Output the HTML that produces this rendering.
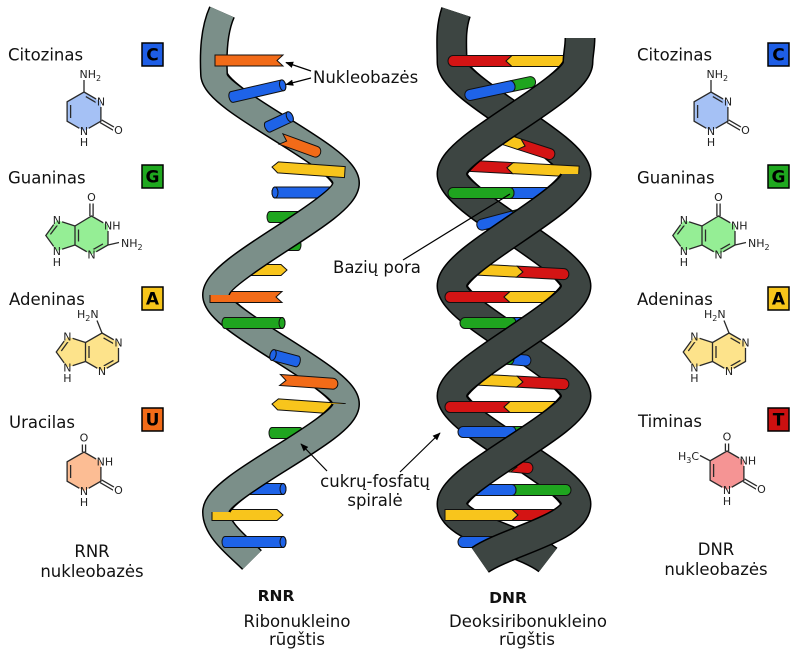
<!DOCTYPE html>
<html><head><meta charset="utf-8">
<style>
html,body{margin:0;padding:0;background:#fff;}
svg{display:block;}
.t{font-family:"DejaVu Sans","Liberation Sans",sans-serif;font-size:16.5px;fill:#111;}
.m{font-family:"DejaVu Sans","Liberation Sans",sans-serif;font-size:11px;fill:#222;}
.c{text-anchor:middle;}
.bd{stroke:#2a2a2a;stroke-width:1.3;fill:none;}
.bx{stroke:#000;stroke-width:1.5;}
.bl{font-family:"DejaVu Sans","Liberation Sans",sans-serif;font-size:17px;font-weight:bold;fill:#000;text-anchor:middle;}
.b{stroke:#111;stroke-width:1;}
</style></head>
<body>
<svg width="800" height="667" viewBox="0 0 800 667" xmlns="http://www.w3.org/2000/svg">
<defs>
<mask id="mk" maskUnits="userSpaceOnUse" x="-200" y="-200" width="1400" height="1100" maskContentUnits="userSpaceOnUse">
<rect x="-200" y="-200" width="1400" height="1100" fill="#fff"/>
<g fill="#000">
<circle cx="101" cy="101.5" r="5.5"/><circle cx="84" cy="131" r="5.5"/><circle cx="118.5" cy="130" r="5.5"/>
<circle cx="108" cy="225.5" r="5.5"/><circle cx="91.5" cy="254.5" r="5.5"/><circle cx="56.9" cy="220.1" r="5.5"/><circle cx="56.9" cy="250.9" r="5.5"/>
<circle cx="118.5" cy="342.5" r="5.5"/><circle cx="102" cy="371" r="5.5"/><circle cx="67.4" cy="336.6" r="5.5"/><circle cx="67.4" cy="367.4" r="5.5"/>
</g>
</mask>
<marker id="ah" viewBox="0 0 10 10" refX="9" refY="5" markerWidth="8" markerHeight="8" orient="auto" markerUnits="userSpaceOnUse">
<path d="M0,1 L10,5 L0,9 z" fill="#000"/>
</marker>

<g id="cyt">
<polygon points="84,92 100.9,101.75 100.9,121.25 84,131 67.1,121.25 67.1,101.75" fill="#a5c1f5"/>
<g mask="url(#mk)" class="bd">
<polygon points="84,92 100.9,101.75 100.9,121.25 84,131 67.1,121.25 67.1,101.75"/>
<line x1="85.8" y1="96.6" x2="96.5" y2="102.8"/>
<line x1="70.6" y1="105" x2="70.6" y2="118"/>
<line x1="84" y1="92" x2="84" y2="80"/>
<path d="M100.1,122.6 L118,133 M101.7,119.9 L119.6,130.3"/>
</g>
<text class="m" x="79.5" y="78">NH<tspan font-size="8" dy="3">2</tspan></text>
<text class="m c" x="101" y="105.5">N</text>
<text class="m c" x="84" y="135">N</text>
<text class="m c" x="84" y="146">H</text>
<text class="m c" x="118.5" y="134">O</text>
</g>

<g id="gua">
<polygon points="91.5,216 108,225.5 108,245 91.5,254.5 75,245 75,226" fill="#95ee95"/>
<polygon points="75,226 56.9,220.1 45.8,235.5 56.9,250.9 75,245" fill="#95ee95"/>
<g mask="url(#mk)" class="bd">
<polygon points="91.5,216 108,225.5 108,245 91.5,254.5 75,245 75,226"/>
<polyline points="75,226 56.9,220.1 45.8,235.5 56.9,250.9 75,245"/>
<path d="M89.9,216 V203.5 M93.1,216 V203.5"/>
<line x1="102.95" y1="243.9" x2="93.05" y2="249.6"/>
<line x1="78.5" y1="229.5" x2="78.5" y2="241.5"/>
<line x1="57.4" y1="225.2" x2="50.4" y2="234.4"/>
<line x1="108" y1="245" x2="119" y2="242.5"/>
</g>
<text class="m c" x="91.5" y="201">O</text>
<text class="m" x="104" y="229.5">NH</text>
<text class="m" x="121" y="247">NH<tspan font-size="8" dy="3">2</tspan></text>
<text class="m c" x="91.5" y="258.5">N</text>
<text class="m c" x="56.9" y="224">N</text>
<text class="m c" x="56.9" y="255">N</text>
<text class="m c" x="56.9" y="266">H</text>
</g>

<g id="ade">
<polygon points="102,333 118.5,342.5 118.5,361.5 102,371 85.5,361.5 85.5,342.5" fill="#fde38b"/>
<polygon points="85.5,342.5 67.43,336.63 56.26,352 67.43,367.37 85.5,361.5" fill="#fde38b"/>
<g mask="url(#mk)" class="bd">
<polygon points="102,333 118.5,342.5 118.5,361.5 102,371 85.5,361.5 85.5,342.5"/>
<polyline points="85.5,342.5 67.43,336.63 56.26,352 67.43,367.37 85.5,361.5"/>
<line x1="103.55" y1="337.9" x2="113.45" y2="343.6"/>
<line x1="113.45" y1="360.4" x2="103.55" y2="366.1"/>
<line x1="89" y1="346" x2="89" y2="358"/>
<line x1="68" y1="341.8" x2="61.3" y2="351"/>
<line x1="102" y1="333" x2="97" y2="320.5"/>
</g>
<text class="m" x="77" y="318">H<tspan font-size="8" dy="3">2</tspan><tspan dy="-3">N</tspan></text>
<text class="m c" x="118.5" y="346.5">N</text>
<text class="m c" x="102" y="375">N</text>
<text class="m c" x="67.4" y="340.6">N</text>
<text class="m c" x="67.4" y="371.4">N</text>
<text class="m c" x="67.4" y="382">H</text>
</g>

<g id="ura">
<polygon points="84,92 100.9,101.75 100.9,121.25 84,131 67.1,121.25 67.1,101.75" fill="#fcbd94"/>
<g mask="url(#mk)" class="bd">
<polygon points="84,92 100.9,101.75 100.9,121.25 84,131 67.1,121.25 67.1,101.75"/>
<line x1="70.6" y1="105" x2="70.6" y2="118"/>
<path d="M82.4,92 V84.5 M85.6,92 V84.5"/>
<path d="M100.1,122.6 L118,133 M101.7,119.9 L119.6,130.3"/>
</g>
<text class="m c" x="84" y="81.5">O</text>
<text class="m" x="96.6" y="105.5">NH</text>
<text class="m c" x="84" y="135">N</text>
<text class="m c" x="84" y="146">H</text>
<text class="m c" x="118.5" y="134">O</text>
</g>

<g id="thy">
<polygon points="84,92 100.9,101.75 100.9,121.25 84,131 67.1,121.25 67.1,101.75" fill="#f59494"/>
<g mask="url(#mk)" class="bd">
<polygon points="84,92 100.9,101.75 100.9,121.25 84,131 67.1,121.25 67.1,101.75"/>
<line x1="70.6" y1="105" x2="70.6" y2="118"/>
<path d="M82.4,92 V84.5 M85.6,92 V84.5"/>
<path d="M100.1,122.6 L118,133 M101.7,119.9 L119.6,130.3"/>
<line x1="67.1" y1="101.75" x2="57" y2="96.5"/>
</g>
<text class="m c" x="84" y="81.5">O</text>
<text class="m" x="96.6" y="105.5">NH</text>
<text class="m c" x="84" y="135">N</text>
<text class="m c" x="84" y="146">H</text>
<text class="m c" x="118.5" y="134">O</text>
<text class="m" x="56" y="101" text-anchor="end">H<tspan font-size="8" dy="3">3</tspan><tspan dy="-3">C</tspan></text>
</g>
</defs>

<!-- Left column -->
<text class="t" x="8" y="60.5">Citozinas</text>
<rect class="bx" x="142" y="43" width="21" height="23" fill="#1e5ee6"/><text class="bl" x="152.5" y="60.5">C</text>
<use href="#cyt"/>
<text class="t" x="8" y="183.5">Guaninas</text>
<rect class="bx" x="142" y="165" width="21" height="23" fill="#1fa81f"/><text class="bl" x="152.5" y="182.5">G</text>
<use href="#gua"/>
<text class="t" x="9" y="305">Adeninas</text>
<rect class="bx" x="142" y="287" width="21" height="23" fill="#f7c51a"/><text class="bl" x="152.5" y="304.5">A</text>
<use href="#ade"/>
<text class="t" x="9" y="428">Uracilas</text>
<rect class="bx" x="142" y="408" width="21" height="23" fill="#f26b18"/><text class="bl" x="152.5" y="425.5">U</text>
<use href="#ura" transform="translate(0,360)"/>
<text class="t c" x="92" y="557">RNR</text>
<text class="t c" x="92" y="577">nukleobazės</text>

<!-- Right column -->
<text class="t" x="637" y="60.5">Citozinas</text>
<rect class="bx" x="768" y="43" width="21" height="23" fill="#1e5ee6"/><text class="bl" x="778.5" y="60.5">C</text>
<use href="#cyt" transform="translate(627,0)"/>
<text class="t" x="637" y="183.5">Guaninas</text>
<rect class="bx" x="768" y="165" width="21" height="23" fill="#1fa81f"/><text class="bl" x="778.5" y="182.5">G</text>
<use href="#gua" transform="translate(627,0)"/>
<text class="t" x="637" y="305">Adeninas</text>
<rect class="bx" x="768" y="287" width="21" height="23" fill="#f7c51a"/><text class="bl" x="778.5" y="304.5">A</text>
<use href="#ade" transform="translate(627,0)"/>
<text class="t" x="638" y="427">Timinas</text>
<rect class="bx" x="768" y="408" width="21" height="23" fill="#cc1010"/><text class="bl" x="778.5" y="425.5">T</text>
<use href="#thy" transform="translate(643,359)"/>
<text class="t c" x="716" y="555">DNR</text>
<text class="t c" x="716" y="575">nukleobazės</text>

<!-- RNA back ribbon -->
<g fill="none" stroke="#000" stroke-width="28">
<path d="M222,12 C214,30 213,52 214,74 C214,101 346,156 346,183"/>
<path d="M216,295 C216,322 346,377 346,404"/>
<path d="M216,512 C216,530 238,546 252,560"/>
</g>
<g fill="none" stroke="#7b8f89" stroke-width="25">
<path d="M222,12 C214,30 213,52 214,74 C214,101 346,156 346,183"/>
<path d="M216,295 C216,322 346,377 346,404"/>
<path d="M216,512 C216,530 238,546 252,560"/>
</g>

<!-- RNA bases -->
<g class="b">
<path fill="#f26b18" transform="translate(215,60.5)" d="M0,-5.5 H68 L62,0 L68,5.5 H0 Z"/>
<g fill="#1e63e8" transform="translate(232,97) rotate(-13)"><path d="M0,-5.5 H52 A3,5.5 0 0 1 52,5.5 H0 A3,5.5 0 0 1 0,-5.5 Z"/><ellipse cx="52" cy="0" rx="3" ry="5.5"/></g>
<g fill="#1e63e8" transform="translate(268,127) rotate(-25)"><path d="M0,-5.5 H24 A3,5.5 0 0 1 24,5.5 H0 A3,5.5 0 0 1 0,-5.5 Z"/><ellipse cx="24" cy="0" rx="3" ry="5.5"/></g>
<path fill="#f26b18" transform="translate(281,139) rotate(20)" d="M0,-5.5 H37 A5,5.5 0 0 1 37,5.5 H0 L6,0 Z"/>
<path fill="#f8c51c" transform="translate(272,167) rotate(4)" d="M6,-5.5 H73 V5.5 H6 L0,0 Z"/>
<g fill="#1e63e8" transform="translate(275,192.5)"><path d="M0,-5.5 H70 A3,5.5 0 0 1 70,5.5 H0 A3,5.5 0 0 1 0,-5.5 Z"/><ellipse cx="0" cy="0" rx="3" ry="5.5"/></g>
<g fill="#1fa51f" transform="translate(270,217)"><path d="M0,-5.5 H30 A3,5.5 0 0 1 30,5.5 H0 A3,5.5 0 0 1 0,-5.5 Z"/></g>
<g fill="#1fa51f" transform="translate(268,245)"><path d="M0,-5.5 H30 A3,5.5 0 0 1 30,5.5 H0 A3,5.5 0 0 1 0,-5.5 Z"/></g>
<path fill="#f8c51c" transform="translate(232,270)" d="M0,-5.5 H49 L55,0 L49,5.5 H0 Z"/>
<path fill="#f26b18" transform="translate(210,297)" d="M0,-5.5 H72 L66,0 L72,5.5 H0 Z"/>
<g fill="#1fa51f" transform="translate(225,323)"><path d="M0,-5.5 H57 A3,5.5 0 0 1 57,5.5 H0 A3,5.5 0 0 1 0,-5.5 Z"/><ellipse cx="57" cy="0" rx="3" ry="5.5"/></g>
<g fill="#1e63e8" transform="translate(273,355) rotate(15)"><path d="M0,-5.5 H25 A3,5.5 0 0 1 25,5.5 H0 A3,5.5 0 0 1 0,-5.5 Z"/><ellipse cx="0" cy="0" rx="3" ry="5.5"/></g>
<path fill="#f26b18" transform="translate(280,380) rotate(4)" d="M0,-5.5 H53 A5,5.5 0 0 1 53,5.5 H0 L6,0 Z"/>
<path fill="#f8c51c" transform="translate(272,404) rotate(4)" d="M6,-5.5 H73 V5.5 H6 L0,0 Z"/>
<g fill="#1fa51f" transform="translate(272,433)"><path d="M0,-5.5 H28 A3,5.5 0 0 1 28,5.5 H0 A3,5.5 0 0 1 0,-5.5 Z"/></g>
<path fill="#f8c51c" transform="translate(270,462)" d="M0,-5.5 H19 L25,0 L19,5.5 H0 Z"/>
<g fill="#1e63e8" transform="translate(235,489)"><path d="M0,-5.5 H48 A3,5.5 0 0 1 48,5.5 H0 A3,5.5 0 0 1 0,-5.5 Z"/><ellipse cx="48" cy="0" rx="3" ry="5.5"/></g>
<path fill="#f8c51c" transform="translate(212,515)" d="M0,-5.5 H65 L71,0 L65,5.5 H0 Z"/>
<g fill="#1e63e8" transform="translate(225,542)"><path d="M0,-5.5 H58 A3,5.5 0 0 1 58,5.5 H0 A3,5.5 0 0 1 0,-5.5 Z"/><ellipse cx="58" cy="0" rx="3" ry="5.5"/></g>
</g>

<!-- RNA front ribbon -->
<g fill="none" stroke="#000" stroke-width="28">
<path d="M346,183 C346,211 216,267 216,295"/>
<path d="M346,404 C346,431 216,485 216,512"/>
</g>
<g fill="none" stroke="#7b8f89" stroke-width="25">
<path d="M346,183 C346,211 216,267 216,295"/>
<path d="M346,404 C346,431 216,485 216,512"/>
</g>

<!-- DNA back ribbons -->
<g fill="none" stroke="#000" stroke-width="31">
<path d="M456,12 C450,30 452,45 452,62 C452,90 576,146 576,174"/>
<path d="M452,286 C452,313 576,369 576,396"/>
<path d="M452,504 C452,528 522,540 548,560"/>
<path d="M452,174 C452,202 576,258 576,286"/>
<path d="M452,396 C452,423 576,477 576,504"/>
</g>
<g fill="none" stroke="#3d4542" stroke-width="28">
<path d="M456,12 C450,30 452,45 452,62 C452,90 576,146 576,174"/>
<path d="M452,286 C452,313 576,369 576,396"/>
<path d="M452,504 C452,528 522,540 548,560"/>
<path d="M452,174 C452,202 576,258 576,286"/>
<path d="M452,396 C452,423 576,477 576,504"/>
</g>

<!-- DNA bases -->
<g class="b">
<g transform="translate(448,61)"><path fill="#d41414" d="M5,-5.5 H64 L58,0 L64,5.5 H5 A5,5.5 0 0 1 5,-5.5 Z"/><path fill="#f8c51c" d="M64,-5.5 H135 V5.5 H64 L58,0 Z"/></g>
<g transform="translate(465,96) rotate(-12)"><path fill="#1fa51f" d="M47,-5.5 H67 A5,5.5 0 0 1 67,5.5 H47 A4,5.5 0 0 0 47,-5.5 Z"/><path fill="#1e63e8" d="M5,-5.5 H47 A4,5.5 0 0 1 47,5.5 H5 A5,5.5 0 0 1 5,-5.5 Z"/></g>
<g transform="translate(488,134) rotate(18)"><path fill="#f8c51c" d="M0,-5.5 H33 L39,0 L33,5.5 H0 Z"/><path fill="#d41414" d="M33,-5.5 H65 A5,5.5 0 0 1 65,5.5 H33 L39,0 Z"/></g>
<g transform="translate(453,165) rotate(3)"><path fill="#d41414" d="M5,-5.5 H60 L54,0 L60,5.5 H5 A5,5.5 0 0 1 5,-5.5 Z"/><path fill="#f8c51c" d="M60,-5.5 H126 V5.5 H60 L54,0 Z"/></g>
<g transform="translate(448,193)"><path fill="#1e63e8" d="M62,-5.5 H119 A5,5.5 0 0 1 119,5.5 H62 A4,5.5 0 0 0 62,-5.5 Z"/><path fill="#1fa51f" d="M5,-5.5 H62 A4,5.5 0 0 1 62,5.5 H5 A5,5.5 0 0 1 5,-5.5 Z"/></g>
<g transform="translate(477,226) rotate(-15)"><path fill="#1fa51f" d="M36,-5.5 H43 A5,5.5 0 0 1 43,5.5 H36 A4,5.5 0 0 0 36,-5.5 Z"/><path fill="#1e63e8" d="M5,-5.5 H36 A4,5.5 0 0 1 36,5.5 H5 A5,5.5 0 0 1 5,-5.5 Z"/></g>
<g transform="translate(466,269) rotate(3)"><path fill="#f8c51c" d="M0,-5.5 H51 L57,0 L51,5.5 H0 Z"/><path fill="#d41414" d="M51,-5.5 H98 A5,5.5 0 0 1 98,5.5 H51 L57,0 Z"/></g>
<g transform="translate(445,297)"><path fill="#d41414" d="M5,-5.5 H65 L59,0 L65,5.5 H5 A5,5.5 0 0 1 5,-5.5 Z"/><path fill="#f8c51c" d="M65,-5.5 H133 V5.5 H65 L59,0 Z"/></g>
<g transform="translate(460,323)"><path fill="#1e63e8" d="M52,-5.5 H65 A5,5.5 0 0 1 65,5.5 H52 A4,5.5 0 0 0 52,-5.5 Z"/><path fill="#1fa51f" d="M5,-5.5 H52 A4,5.5 0 0 1 52,5.5 H5 A5,5.5 0 0 1 5,-5.5 Z"/></g>
<g transform="translate(498,358) rotate(5)"><path fill="#1e63e8" d="M12,-5.5 H28 A5,5.5 0 0 1 28,5.5 H12 A4,5.5 0 0 0 12,-5.5 Z"/><path fill="#1fa51f" d="M5,-5.5 H12 A4,5.5 0 0 1 12,5.5 H5 A5,5.5 0 0 1 5,-5.5 Z"/></g>
<g transform="translate(466,379) rotate(3)"><path fill="#f8c51c" d="M0,-5.5 H51 L57,0 L51,5.5 H0 Z"/><path fill="#d41414" d="M51,-5.5 H98 A5,5.5 0 0 1 98,5.5 H51 L57,0 Z"/></g>
<g transform="translate(445,407)"><path fill="#d41414" d="M5,-5.5 H65 L59,0 L65,5.5 H5 A5,5.5 0 0 1 5,-5.5 Z"/><path fill="#f8c51c" d="M65,-5.5 H133 V5.5 H65 L59,0 Z"/></g>
<g transform="translate(458,432)"><path fill="#1fa51f" d="M54,-5.5 H69 A5,5.5 0 0 1 69,5.5 H54 A4,5.5 0 0 0 54,-5.5 Z"/><path fill="#1e63e8" d="M5,-5.5 H54 A4,5.5 0 0 1 54,5.5 H5 A5,5.5 0 0 1 5,-5.5 Z"/></g>
<g transform="translate(505,466) rotate(5)"><path fill="#f8c51c" d="M0,-5.5 H6 L12,0 L6,5.5 H0 Z"/><path fill="#d41414" d="M6,-5.5 H23 A5,5.5 0 0 1 23,5.5 H6 L12,0 Z"/></g>
<g transform="translate(467,490)"><path fill="#1fa51f" d="M45,-5.5 H99 A5,5.5 0 0 1 99,5.5 H45 A4,5.5 0 0 0 45,-5.5 Z"/><path fill="#1e63e8" d="M5,-5.5 H45 A4,5.5 0 0 1 45,5.5 H5 A5,5.5 0 0 1 5,-5.5 Z"/></g>
<g transform="translate(445,515)"><path fill="#f8c51c" d="M0,-5.5 H67 L73,0 L67,5.5 H0 Z"/><path fill="#d41414" d="M67,-5.5 H129 A5,5.5 0 0 1 129,5.5 H67 L73,0 Z"/></g>
<g transform="translate(458,542)"><path fill="#1fa51f" d="M54,-5.5 H75 A5,5.5 0 0 1 75,5.5 H54 A4,5.5 0 0 0 54,-5.5 Z"/><path fill="#1e63e8" d="M5,-5.5 H54 A4,5.5 0 0 1 54,5.5 H5 A5,5.5 0 0 1 5,-5.5 Z"/></g>
</g>

<!-- DNA front ribbons -->
<g fill="none" stroke="#000" stroke-width="31">
<path d="M580,38 C580,48 578,55 578,62 C578,90 452,146 452,174"/>
<path d="M576,174 C576,202 452,258 452,286"/>
<path d="M576,286 C576,313 452,369 452,396"/>
<path d="M576,396 C576,423 452,477 452,504"/>
<path d="M576,504 C576,528 506,542 480,560"/>
</g>
<g fill="none" stroke="#3d4542" stroke-width="28">
<path d="M580,38 C580,48 578,55 578,62 C578,90 452,146 452,174"/>
<path d="M576,174 C576,202 452,258 452,286"/>
<path d="M576,286 C576,313 452,369 452,396"/>
<path d="M576,396 C576,423 452,477 452,504"/>
<path d="M576,504 C576,528 506,542 480,560"/>
</g>

<!-- Labels and arrows -->
<g stroke="#000" stroke-width="1.2" fill="none">
<line x1="311" y1="71" x2="286" y2="62.5" marker-end="url(#ah)"/>
<line x1="311" y1="78" x2="286" y2="84.5" marker-end="url(#ah)"/>
<line x1="403" y1="260" x2="510" y2="194"/>
<line x1="327" y1="471" x2="301" y2="444" marker-end="url(#ah)"/>
<line x1="400" y1="472" x2="440" y2="433" marker-end="url(#ah)"/>
</g>
<text class="t" x="313" y="83">Nukleobazės</text>
<text class="t" x="333" y="273">Bazių pora</text>
<text class="t c" x="375" y="487">cukrų-fosfatų</text>
<text class="t c" x="375" y="506">spiralė</text>

<text class="t c" x="276" y="601" style="font-weight:bold;font-size:15.5px">RNR</text>
<text class="t c" x="297" y="627">Ribonukleino</text>
<text class="t c" x="297" y="645">rūgštis</text>
<text class="t c" x="508" y="603" style="font-weight:bold;font-size:15.5px">DNR</text>
<text class="t c" x="528" y="627">Deoksiribonukleino</text>
<text class="t c" x="527" y="645">rūgštis</text>
</svg>
</body></html>
